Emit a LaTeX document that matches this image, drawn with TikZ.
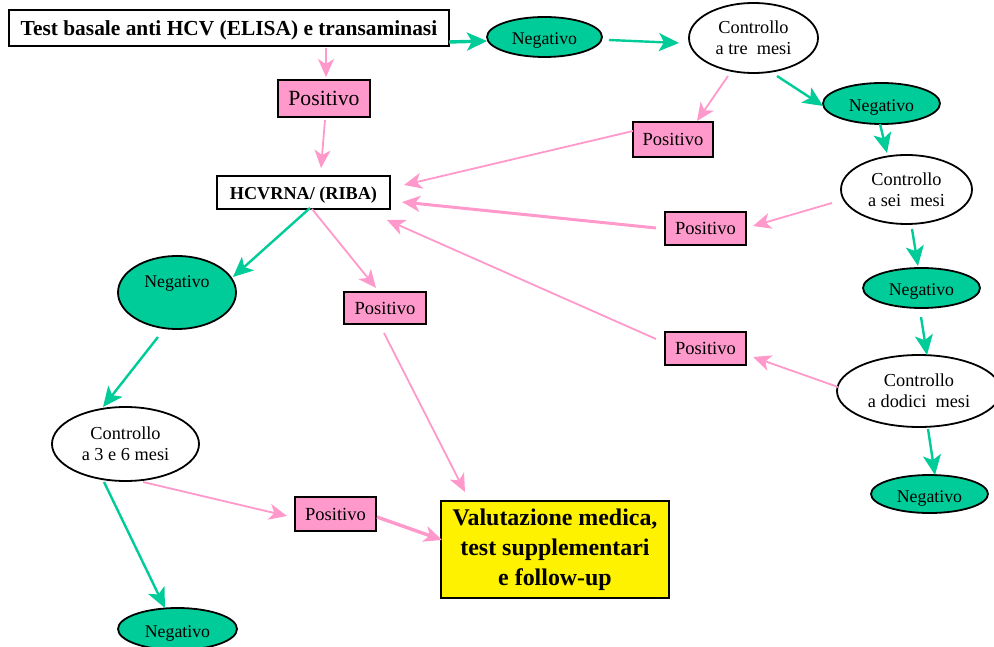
\documentclass[tikz,border=0pt]{standalone}
\usepackage{fontspec}
\setmainfont{Liberation Serif}
\usetikzlibrary{arrows.meta,shapes.geometric}
\definecolor{grn}{RGB}{0,204,153}
\definecolor{pnk}{RGB}{255,153,204}
\tikzset{
 gtip/.tip={Stealth[length=20pt,width=18pt,inset=5pt]},
 ptip/.tip={Stealth[length=18pt,width=16pt,inset=5pt]},
}
\begin{document}
\begin{tikzpicture}[x=1pt,y=-1pt,
 box/.style={draw=black, line width=1.8pt, rectangle, inner sep=0pt, align=center},
 posbox/.style={box, fill=pnk, font=\fontsize{18.5}{21}\selectfont, minimum width=81pt, minimum height=34pt},
 negell/.style={ellipse, draw=black, line width=1.8pt, fill=grn, inner sep=0pt, minimum width=117pt, minimum height=40pt, font=\fontsize{17.8}{21}\selectfont, text height=16pt, text depth=0pt},
 ctrl/.style={ellipse, draw=black, line width=1.8pt, fill=white, inner sep=0pt, align=center, font=\fontsize{18.3}{21}\selectfont},
 garrow/.style={draw=grn, fill=grn, line width=2.4pt, -gtip},
 parrow/.style={draw=pnk, fill=pnk, line width=1.8pt, -ptip},
]
\useasboundingbox[fill=white] (0,0) rectangle (994,647);

\node[box, fill=white, font=\bfseries\fontsize{21.4}{24}\selectfont, minimum width=440pt, minimum height=36pt, text height=15pt, text depth=0pt] (test) at (229,28) {Test basale anti HCV (ELISA) e transaminasi};
\node[negell, minimum width=115pt] (neg1) at (544.5,37) {Negativo};
\node[ctrl, minimum width=129pt, minimum height=70pt] (ctre) at (753.5,38) {Controllo\\a tre~ mesi};
\node[posbox, minimum width=92pt, minimum height=37pt, font=\fontsize{21.7}{24}\selectfont] (posA) at (324,98.5) {Positivo};
\node[negell, minimum height=41pt] (neg2) at (881.5,103.5) {Negativo};
\node[posbox, minimum width=80pt, minimum height=35pt] (posB) at (673,139.5) {Positivo};
\node[box, fill=white, font=\bfseries\fontsize{18.2}{21}\selectfont, minimum width=173pt, minimum height=33pt, text height=14pt, text depth=0pt] (hcv) at (303.5,192.5) {HCVRNA/ (RIBA)};
\node[ctrl, minimum width=131pt, minimum height=69pt] (csei) at (906.5,189.5) {Controllo\\a sei~ mesi};
\node[posbox, minimum height=33pt] (posC) at (705.5,228.5) {Positivo};
\node[negell, minimum width=118pt, minimum height=73pt, text depth=25pt] (negL) at (177,292.5) {Negativo};
\node[posbox, minimum width=82pt, minimum height=32pt] (posD) at (385,308) {Positivo};
\node[negell] (neg3) at (921.5,288) {Negativo};
\node[posbox, minimum height=33pt] (posE) at (705.5,348.5) {Positivo};
\node[ctrl, minimum width=164pt, minimum height=72pt] (cdod) at (919,391) {Controllo\\a dodici~ mesi};
\node[ctrl, minimum width=147pt, minimum height=74pt] (c36) at (125.5,444) {Controllo\\a 3 e 6 mesi};
\node[negell, minimum height=38pt] (neg4) at (929.5,494) {Negativo};
\node[posbox] (posF) at (335.5,514) {Positivo};
\node[box, fill=yellow, font=\bfseries\fontsize{23.9}{30}\selectfont, minimum width=228pt, minimum height=97pt] (yel) at (555,549.5) {Valutazione medica,\\test supplementari\\e follow-up};
\node[negell, minimum width=119pt, minimum height=42pt] (neg5) at (177.5,629) {Negativo};

% green connectors
\draw[garrow, line width=3.4pt] ([shift={(220,14)}]test.center) -- ([shift={(-57.5,4)}]neg1.center);
\draw[garrow] ([shift={(64.5,3)}]neg1.center) -- ([shift={(-74.5,5)}]ctre.center);
\draw[garrow] ([shift={(23.5,38)}]ctre.center) -- ([shift={(-58.5,2.5)}]neg2.center);
\draw[garrow] ([shift={(-1.5,20.5)}]neg2.center) -- ([shift={(-19.5,-36.5)}]csei.center);
\draw[garrow] ([shift={(5.5,39.5)}]csei.center) -- ([shift={(-3.5,-22)}]neg3.center);
\draw[garrow] ([shift={(-0.5,29)}]neg3.center) -- ([shift={(8,-36)}]cdod.center);
\draw[garrow] ([shift={(9,38)}]cdod.center) -- ([shift={(5.5,-19)}]neg4.center);
\draw[garrow] ([shift={(6.5,15.5)}]hcv.center) -- ([shift={(56,-15.5)}]negL.center);
\draw[garrow] ([shift={(-19,44.5)}]negL.center) -- ([shift={(-22.5,-37)}]c36.center);
\draw[garrow] ([shift={(-21.5,38)}]c36.center) -- ([shift={(-12.5,-21)}]neg5.center);

% pink connectors
\draw[parrow] ([shift={(-25.5,38)}]ctre.center) -- ([shift={(24,-18.5)}]posB.center);
\draw[parrow] ([shift={(97,20)}]test.center) -- ([shift={(2,-21.5)}]posA.center);
\draw[parrow] ([shift={(1,21.5)}]posA.center) -- ([shift={(17.5,-24.5)}]hcv.center);
\draw[parrow] ([shift={(-40,-8.5)}]posB.center) -- ([shift={(100.5,-7.5)}]hcv.center);
\draw[parrow] ([shift={(-74.5,13.5)}]csei.center) -- ([shift={(47.5,-2.5)}]posC.center);
\draw[parrow, line width=3pt] ([shift={(-49.5,-0.5)}]posC.center) -- ([shift={(98.5,9.5)}]hcv.center);
\draw[parrow] ([shift={(-49.5,-9.5)}]posE.center) -- ([shift={(83.5,27.5)}]hcv.center);
\draw[parrow] ([shift={(-81,-4)}]cdod.center) -- ([shift={(47.5,8.5)}]posE.center);
\draw[parrow] ([shift={(8.5,16.5)}]hcv.center) -- ([shift={(-9,-20)}]posD.center);
\draw[parrow] ([shift={(-1,25)}]posD.center) -- ([shift={(-90,-57.5)}]yel.center);
\draw[parrow] ([shift={(17.5,38)}]c36.center) -- ([shift={(-48.5,2)}]posF.center);
\draw[parrow, line width=3.4pt] ([shift={(41.5,3)}]posF.center) -- ([shift={(-113,-9.5)}]yel.center);
\end{tikzpicture}
\end{document}
